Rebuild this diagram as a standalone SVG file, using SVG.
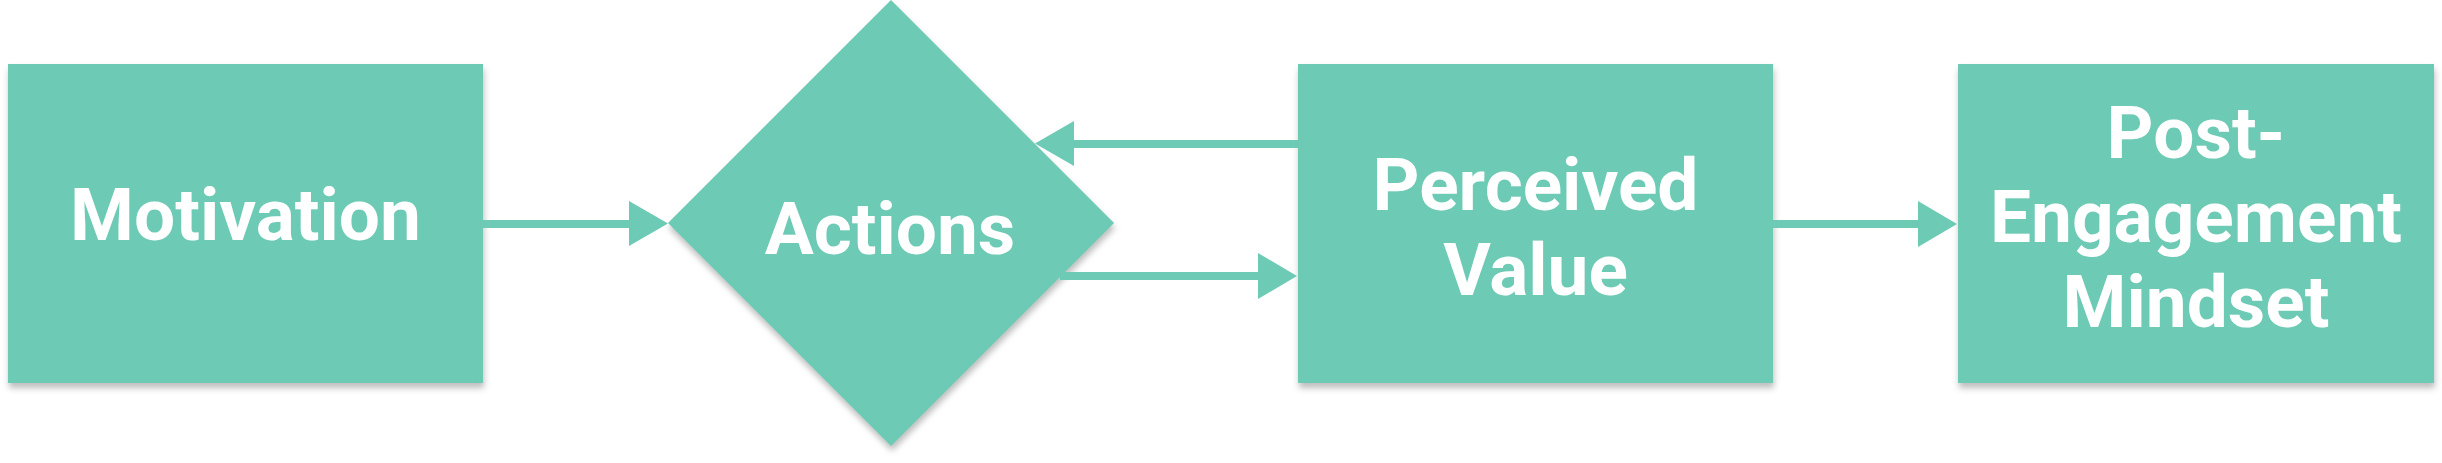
<svg xmlns="http://www.w3.org/2000/svg" width="2442" height="463" viewBox="0 0 2442 463">
  <defs>
    <filter id="shadow" x="-10%" y="-10%" width="120%" height="125%">
      <feDropShadow dx="1" dy="5" stdDeviation="3" flood-color="#6b7070" flood-opacity="0.45"/>
    </filter>
  </defs>
  <style>
    .shape { fill: #6dcab5; }
    .label { fill: #ffffff; font-family: Roboto, "Liberation Sans", sans-serif; font-weight: 700; font-size: 73px; text-anchor: middle; }
    .line { stroke: #6dcab5; stroke-width: 8; fill: none; }
    .head { fill: #6dcab5; }
  </style>
  <rect width="2442" height="463" fill="#ffffff"/>

  <g id="node-motivation">
    <rect class="shape" x="8" y="64" width="475" height="319" filter="url(#shadow)"/>
    <text class="label" x="245.5" y="240">Motivation</text>
  </g>

  <g id="node-actions">
    <polygon class="shape" points="891,0 1114,223 891,446 668,223" filter="url(#shadow)"/>
    <text class="label" x="890" y="254">Actions</text>
  </g>

  <g id="node-perceived-value">
    <rect class="shape" x="1298" y="64" width="475" height="319" filter="url(#shadow)"/>
    <text class="label" x="1535.5" y="210">Perceived</text>
    <text class="label" x="1535.5" y="295">Value</text>
  </g>

  <g id="node-post-engagement">
    <rect class="shape" x="1958" y="64" width="476" height="319" filter="url(#shadow)"/>
    <text class="label" x="2196" y="158">Post-</text>
    <text class="label" x="2196" y="242">Engagement</text>
    <text class="label" x="2196" y="327">Mindset</text>
  </g>

  <g id="connectors">
    <line class="line" x1="483" y1="224" x2="631" y2="224"/>
    <polygon class="head" points="629,201 668,223.5 629,246"/>

    <line class="line" x1="1298" y1="144" x2="1072" y2="144"/>
    <polygon class="head" points="1074,121 1035,143.5 1074,166"/>

    <line class="line" x1="1060" y1="276" x2="1260" y2="276"/>
    <polygon class="head" points="1258,253 1297,276 1258,299"/>

    <line class="line" x1="1773" y1="224" x2="1920" y2="224"/>
    <polygon class="head" points="1918,201 1957,224 1918,247"/>
  </g>
</svg>
